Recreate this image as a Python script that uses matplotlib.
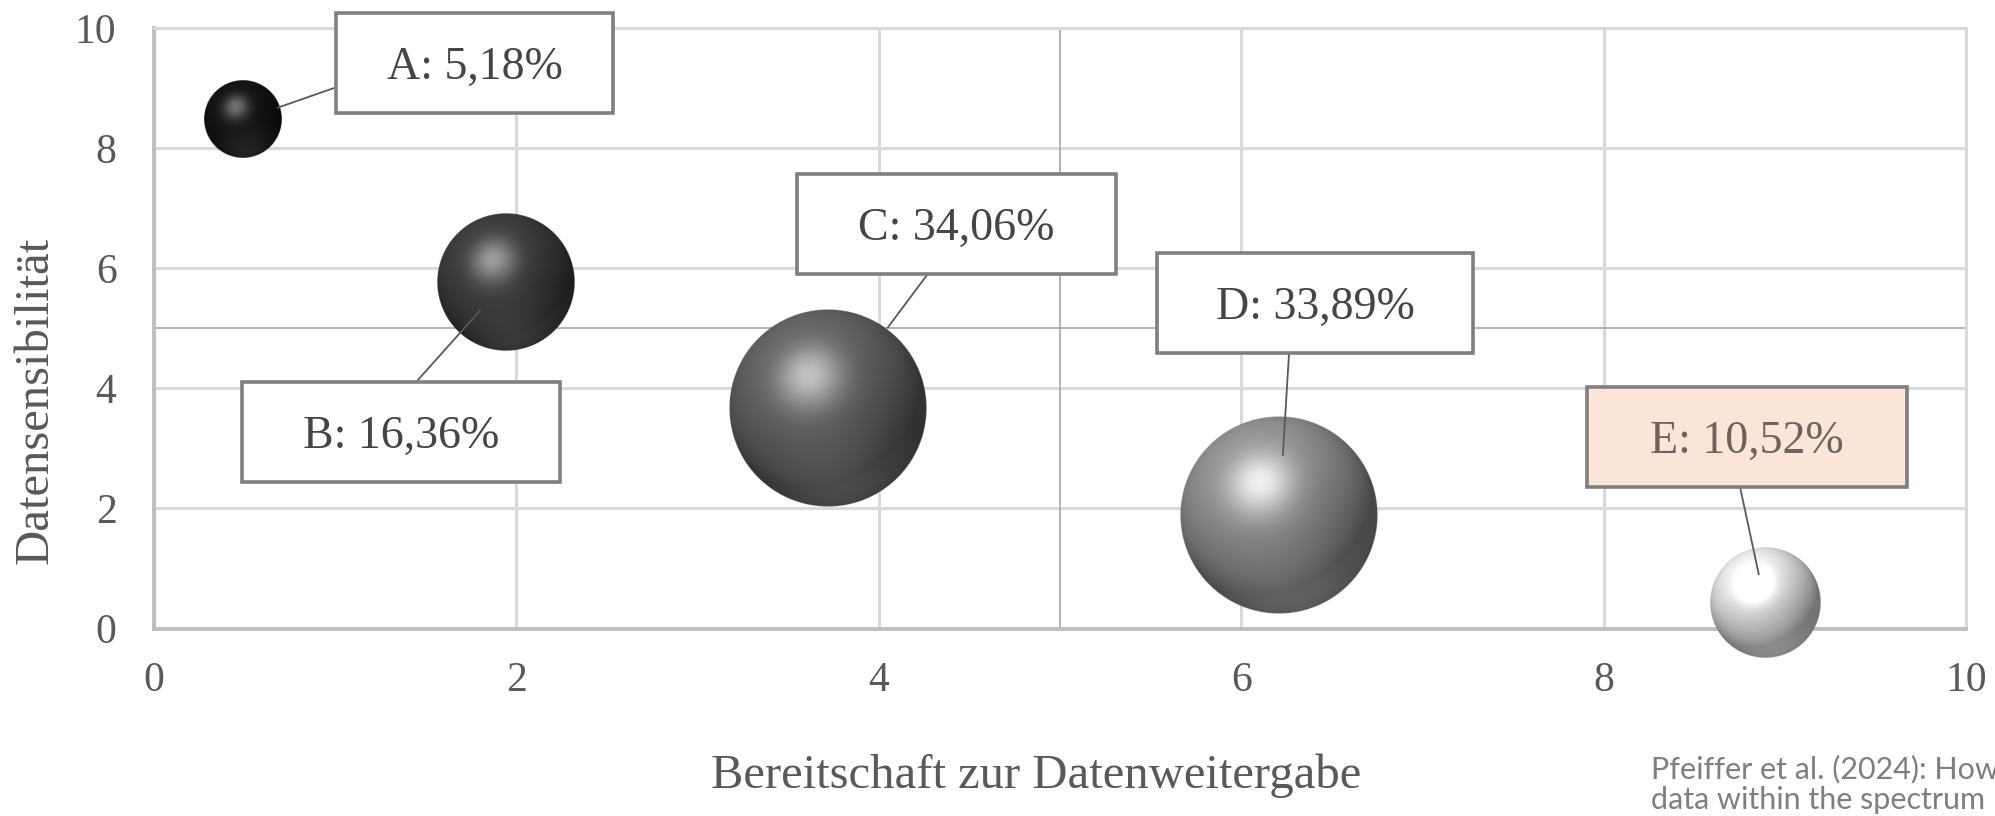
import numpy as np
import matplotlib.pyplot as plt
from matplotlib.colors import to_rgb
from matplotlib.patches import Rectangle

plt.rcParams['font.family'] = ['Liberation Serif', 'DejaVu Serif']

# Cluster: Bereitschaft (x), Sensibilität (y), Anteil in % (Blasenfläche)
cluster = ['A', 'B', 'C', 'D', 'E']
bereitschaft = [0.49, 1.94, 3.72, 6.21, 8.89]
sensibilitaet = [8.47, 5.77, 3.68, 1.89, 0.43]
anteile = [5.18, 16.36, 34.06, 33.89, 10.52]

x_ticks = [0, 2, 4, 6, 8, 10]
y_ticks = [0, 2, 4, 6, 8, 10]

# Darstellung
kugel_farben = ['#141414', '#3d3d3d', '#626262', '#8f8f8f', '#e4e4e4']
box_farben = ['white', 'white', 'white', 'white', '#fbe5d6']
text_farben = ['#454545', '#454545', '#454545', '#454545', '#6f625a']
label_pos = [(1.769, 9.417), (1.363, 3.272), (4.429, 6.736), (6.407, 5.421), (8.791, 3.197)]
leader_start = [(0.993, 9.0), (1.451, 4.12), (4.266, 5.887), (6.264, 4.588), (8.753, 2.356)]
leader_stop_px = [37, 38, 100, 60, 29]
box_breite_px = [277, 318, 319, 316, 320]
box_hoehe_px = 100
r_max_px = 99


def kugel(farbe, n=360):
    # schattierte Kugel als RGBA-Bild
    t = np.linspace(-1, 1, n)
    u, w = np.meshgrid(t, -t)
    d = np.sqrt(u ** 2 + w ** 2)
    nz = np.sqrt(np.clip(1 - d ** 2, 0, 1))

    licht = np.array([-0.35, 0.6, 0.72])
    licht /= np.linalg.norm(licht)
    diff = np.clip(u * licht[0] + w * licht[1] + nz * licht[2], 0, 1)
    h = licht + np.array([0, 0, 1.0])
    h /= np.linalg.norm(h)
    spec = np.clip(u * h[0] + w * h[1] + nz * h[2], 0, 1) ** 18
    unten = np.array([0.1, -0.8, 0.55])
    unten /= np.linalg.norm(unten)
    refl = np.clip(u * unten[0] + w * unten[1] + nz * unten[2], 0, 1) ** 4

    base = np.array(to_rgb(farbe))
    rgb = base * (0.5 + 0.58 * diff[..., None]) + 0.36 * spec[..., None] + 0.1 * refl[..., None]
    rgb = np.clip(rgb, 0, 1)
    alpha = np.clip((1 - d) * n / 2, 0, 1)
    return np.dstack([rgb, alpha])


fig = plt.figure(figsize=(19.95, 8.16), dpi=100)
ax = fig.add_axes([154 / 1995, 1 - 628.5 / 816, (1966 - 154) / 1995, (628.5 - 28) / 816])
ax.set_xlim(0, 10)
ax.set_ylim(0, 10)

# Pixel pro Dateneinheit
p0 = ax.transData.transform((0, 0))
p1 = ax.transData.transform((1, 1))
px_x, px_y = p1 - p0

ax.set_xticks(x_ticks)
ax.set_yticks(y_ticks)
ax.grid(True, color='#d9d9d9', linewidth=2.2, zorder=0)
ax.set_axisbelow(True)
ax.axvline(5, color='#a6a6a6', linewidth=1.2, zorder=1)
ax.axhline(5, color='#a6a6a6', linewidth=1.2, zorder=1)
for s in ['left', 'bottom']:
    ax.spines[s].set_color('#bfbfbf')
    ax.spines[s].set_linewidth(2.8)
for s in ['top', 'right']:
    ax.spines[s].set_color('#d9d9d9')
    ax.spines[s].set_linewidth(2.2)
ax.tick_params(axis='both', length=0, labelsize=30, labelcolor='#595959')
ax.tick_params(axis='x', pad=24)
ax.tick_params(axis='y', pad=27)

# Blasen: Fläche proportional zum Anteil
for x, y, v, farbe in zip(bereitschaft, sensibilitaet, anteile, kugel_farben):
    r = r_max_px * np.sqrt(v / max(anteile))
    rx, ry = r / px_x, r / px_y
    ax.imshow(kugel(farbe), extent=[x - rx, x + rx, y - ry, y + ry],
              aspect='auto', zorder=3, clip_on=False, interpolation='antialiased')
ax.set_xlim(0, 10)
ax.set_ylim(0, 10)

# Datenbeschriftungen mit Führungslinien
for i, name in enumerate(cluster):
    text = f'{name}: {anteile[i]:.2f}%'.replace('.', ',')
    ax.annotate('', xy=(bereitschaft[i], sensibilitaet[i]), xytext=leader_start[i],
                arrowprops=dict(arrowstyle='-', color='#595959', lw=1.3,
                                shrinkA=0, shrinkB=leader_stop_px[i] * 0.72),
                annotation_clip=False, zorder=4)
    cx, cy = label_pos[i]
    bw, bh = box_breite_px[i] / px_x, box_hoehe_px / px_y
    ax.add_patch(Rectangle((cx - bw / 2, cy - bh / 2), bw, bh, facecolor=box_farben[i],
                           edgecolor='#7f7f7f', linewidth=2.6, zorder=5, clip_on=False))
    ax.text(cx, cy - 0.08, text, ha='center', va='center', fontsize=33,
            color=text_farben[i], zorder=6)

fig.text(1036 / 1995, 1 - 776 / 816, 'Bereitschaft zur Datenweitergabe',
         ha='center', va='center', fontsize=35, color='#595959')
fig.text(36 / 1995, 1 - 400 / 816, 'Datensensibilität', rotation=90,
         ha='center', va='center', fontsize=35, color='#595959')

quelle = ['Pfeiffer et al. (2024): How', 'data within the spectrum']
for zeile, baseline in zip(quelle, [778, 809]):
    fig.text(1651 / 1995, 1 - baseline / 816, zeile, ha='left', va='baseline',
             fontsize=22, color='#7f7f7f', family=['Lato', 'DejaVu Sans'])

fig.savefig('out.png', dpi=100, facecolor='white')
